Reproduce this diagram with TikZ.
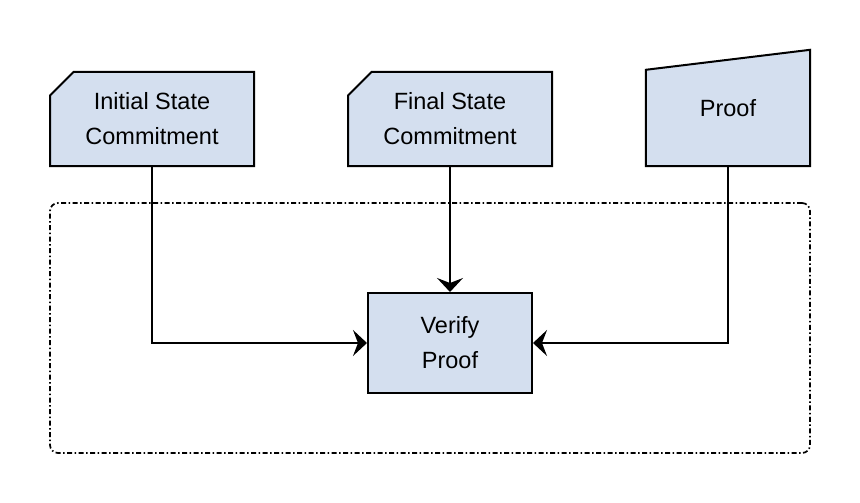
\documentclass[tikz,border=0pt]{standalone}
\usepackage{fontspec}
\setmainfont{Liberation Sans}
\usetikzlibrary{shapes.misc,arrows.meta,positioning,backgrounds}

\definecolor{boxblue}{RGB}{212,223,239}

\begin{document}
\begin{tikzpicture}[x=1pt, y=-1pt,
    every node/.style={font=\fontsize{23.5}{35}\selectfont, align=center},
    card/.style={chamfered rectangle, chamfered rectangle corners=north west,
      chamfered rectangle xsep=20pt, draw, line width=2pt, fill=boxblue,
      minimum width=204pt, minimum height=94pt, inner sep=0pt},
    block/.style={rectangle, draw, line width=2pt, fill=boxblue,
      minimum width=164pt, minimum height=100pt, inner sep=0pt},
    manual/.style={rectangle, minimum width=164pt, minimum height=116pt, inner sep=0pt},
    zone/.style={rectangle, draw, rounded corners=8pt, line width=1.7pt,
      dash pattern=on 5pt off 2.5pt on 1.5pt off 2.5pt,
      minimum width=760pt, minimum height=250pt},
    line/.style={draw, line width=1.4pt, -{Stealth[length=14pt, width=26pt, inset=5pt]}}]

    \useasboundingbox (0,0) rectangle (860,503);

    \node [zone] (zone) at (430,328) {};

    \node [card] (init) at (152,119) {Initial State\\Commitment};
    \node [card] (final) at (450,119) {Final State\\Commitment};
    \node [manual] (proof) at (728,108) {Proof};
    \node [block] (verify) at (450,343) {Verify\\Proof};

    % manual input outline behind the text
    \begin{scope}[on background layer]
      \filldraw [fill=boxblue, line width=2pt, line join=miter]
        (proof.south west) -- (proof.south east) -- (proof.north east)
        -- ([yshift=-20pt]proof.north west) -- cycle;
    \end{scope}

    \path [line] (init.south) |- (verify.west);
    \path [line] (final.south) -- (verify.north);
    \path [line] (proof.south) |- (verify.east);
\end{tikzpicture}
\end{document}
